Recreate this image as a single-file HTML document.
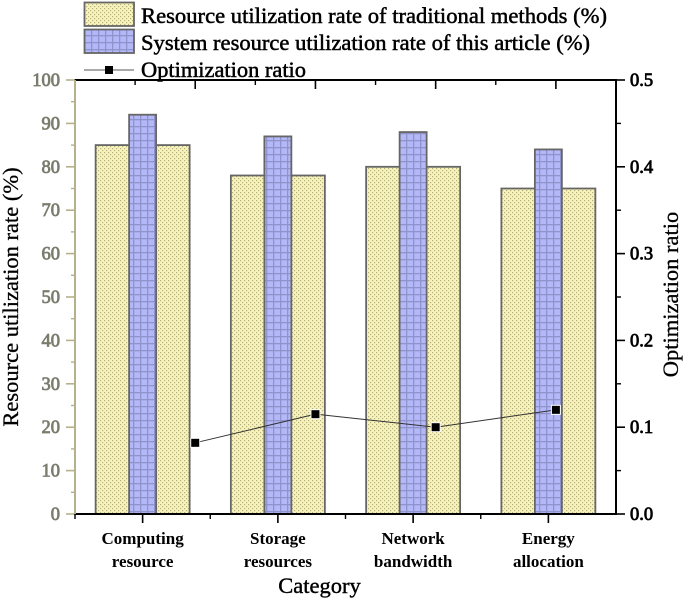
<!DOCTYPE html>
<html>
<head>
<meta charset="utf-8">
<style>
html,body{margin:0;padding:0;background:#fff;}
svg{display:block;font-family:"Liberation Serif",serif;}
</style>
</head>
<body>
<svg id="chart" width="685" height="600" viewBox="0 0 685 600" xmlns="http://www.w3.org/2000/svg">
<defs>
<pattern id="dots" width="4" height="4" patternUnits="userSpaceOnUse">
<rect width="4" height="4" fill="#f8f3ba"/>
<rect x="0" y="0" width="1.2" height="1.2" fill="#b4b080"/>
<rect x="2" y="2" width="1.2" height="1.2" fill="#b4b080"/>
</pattern>
<pattern id="grid" width="7" height="7" patternUnits="userSpaceOnUse">
<rect width="7" height="7" fill="#b4b8f8"/>
<rect x="0" y="0" width="7" height="1.3" fill="#8f93cc"/>
<rect x="0" y="0" width="1.3" height="7" fill="#8f93cc"/>
</pattern>
<filter id="soft" x="0" y="0" width="100%" height="100%" filterUnits="userSpaceOnUse" primitiveUnits="userSpaceOnUse">
<feGaussianBlur stdDeviation="0.28"/>
</filter>
</defs>
<g filter="url(#soft)">
<g id="bars"></g>
<g id="line"></g>
<g id="axes"></g>
<g>
<rect x="84.5" y="2.5" width="49.5" height="23.5" fill="url(#dots)" stroke="#666" stroke-width="1.8"/>
<text x="141" y="23" font-size="22" textLength="466" lengthAdjust="spacingAndGlyphs" fill="#000" stroke="#000" stroke-width="0.5">Resource utilization rate of traditional methods (%)</text>
<rect x="84.5" y="29.5" width="49.5" height="23.5" fill="url(#grid)" stroke="#666" stroke-width="1.8"/>
<text x="141" y="50" font-size="22" textLength="449" lengthAdjust="spacingAndGlyphs" fill="#000" stroke="#000" stroke-width="0.5">System resource utilization rate of this article (%)</text>
<line x1="84" y1="70" x2="134" y2="70" stroke="#555" stroke-width="1"/>
<rect x="105" y="66" width="8" height="8" fill="#000"/>
<text x="141" y="77" font-size="22" textLength="165" lengthAdjust="spacingAndGlyphs" fill="#000" stroke="#000" stroke-width="0.5">Optimization ratio</text>
</g>
<text transform="translate(18,297) rotate(-90)" text-anchor="middle" font-size="22.5" fill="#000" stroke="#000" stroke-width="0.3">Resource utilization rate (%)</text>
<text transform="translate(678,294.5) rotate(-90)" text-anchor="middle" font-size="22.5" fill="#000" stroke="#000" stroke-width="0.3">Optimization ratio</text>
<text x="319.5" y="593" text-anchor="middle" font-size="22.5" fill="#000" stroke="#000" stroke-width="0.4">Category</text>
</g>
<script>
var categories = [["Computing","resource"],["Storage","resources"],["Network","bandwidth"],["Energy","allocation"]];
var traditionalValues = [85,78,80,75];
var proposedValues = [92,87,88,84];
var ratioValues = [0.082,0.115,0.1,0.12];
var leftTicks = [0,10,20,30,40,50,60,70,80,90,100];
var rightTicks = [0,0.1,0.2,0.3,0.4,0.5];

var NS = 'http://www.w3.org/2000/svg';
var L = 75, R = 616, T = 80, B = 514;
function yLeft(v){ return B - (B - T) * v / 100; }
function yRight(v){ return B - (B - T) * v / 0.5; }
function xCat(i){ return L + (R - L) * (i + 0.5) / categories.length; }
function xLine(i){ return L + (R - L) * (i + 1) / (categories.length + 0.5); }
function mk(parent, tag, attrs, txt){
  var el = document.createElementNS(NS, tag);
  for (var k in attrs) el.setAttribute(k, attrs[k]);
  if (txt !== undefined) el.textContent = txt;
  parent.appendChild(el);
  return el;
}
var barsG = document.getElementById('bars');
var lineG = document.getElementById('line');
var axesG = document.getElementById('axes');
var el;

categories.forEach(function(c, i){
  var cx = xCat(i);
  el = mk(barsG, 'rect', {x:cx-47, y:yLeft(traditionalValues[i]), width:94, height:B-yLeft(traditionalValues[i]), fill:'url(#dots)', stroke:'#666', 'stroke-width':1.8});
  
  
  el = mk(barsG, 'rect', {x:cx-13.5, y:yLeft(proposedValues[i]), width:27, height:B-yLeft(proposedValues[i]), fill:'url(#grid)', stroke:'#666', 'stroke-width':1.8});
  
  
});

var linePts = ratioValues.map(function(v, i){ return xLine(i) + ',' + yRight(v); }).join(' ');
el = mk(lineG, 'polyline', {points:linePts, fill:'none', stroke:'#333', 'stroke-width':1});


ratioValues.forEach(function(v, i){
  el = mk(lineG, 'rect', {x:xLine(i)-4, y:yRight(v)-4, width:8, height:8, fill:'#000', stroke:'#fff', 'stroke-width':2, 'paint-order':'stroke'});
  
  
});

// frame
el = mk(axesG, 'line', {x1:L-1, y1:T, x2:R+1, y2:T, stroke:'#000', 'stroke-width':2});


el = mk(axesG, 'line', {x1:L-1, y1:B, x2:R+1, y2:B, stroke:'#000', 'stroke-width':2});


el = mk(axesG, 'line', {x1:L, y1:T, x2:L, y2:B, stroke:'#b5b18c', 'stroke-width':2});


el = mk(axesG, 'line', {x1:R, y1:T, x2:R, y2:B, stroke:'#000', 'stroke-width':2});



// left ticks and labels
leftTicks.forEach(function(v, i){
  el = mk(axesG, 'line', {x1:66, y1:yLeft(v), x2:L, y2:yLeft(v), stroke:'#b5b18c', 'stroke-width':1.6});
  
  
  if (i < leftTicks.length - 1) {
    var m = (v + leftTicks[i+1]) / 2;
    el = mk(axesG, 'line', {x1:71, y1:yLeft(m), x2:L, y2:yLeft(m), stroke:'#b5b18c', 'stroke-width':1.4});
    
    
  }
  el = mk(axesG, 'text', {x:60, y:yLeft(v)+6, 'text-anchor':'end', 'font-size':18.5, fill:'#7a7d6e', stroke:'#7a7d6e', 'stroke-width':0.8}, String(v));
  
  
});

// right ticks and labels
rightTicks.forEach(function(v, i){
  el = mk(axesG, 'line', {x1:R, y1:yRight(v), x2:R+9, y2:yRight(v), stroke:'#000', 'stroke-width':1.6});
  
  
  if (i < rightTicks.length - 1) {
    var m = (v + rightTicks[i+1]) / 2;
    el = mk(axesG, 'line', {x1:R, y1:yRight(m), x2:R+5, y2:yRight(m), stroke:'#000', 'stroke-width':1.4});
    
    
  }
  el = mk(axesG, 'text', {x:630, y:yRight(v)+6, 'font-size':18.5, fill:'#000', stroke:'#000', 'stroke-width':0.8}, v.toFixed(1));
  
  
});

// bottom ticks and category labels
categories.forEach(function(c, i){
  var cx = xCat(i);
  el = mk(axesG, 'line', {x1:cx, y1:B, x2:cx, y2:B+9, stroke:'#000', 'stroke-width':1.6});
  
  
  var mx = L + (R - L) * i / categories.length;
  el = mk(axesG, 'line', {x1:mx, y1:B, x2:mx, y2:B+5, stroke:'#000', 'stroke-width':1.4});
  
  
  el = mk(axesG, 'text', {x:cx, y:544, 'text-anchor':'middle', 'font-size':17, 'font-weight':'bold', fill:'#000'}, c[0]);
  
  
  el = mk(axesG, 'text', {x:cx, y:567, 'text-anchor':'middle', 'font-size':17, 'font-weight':'bold', fill:'#000'}, c[1]);
  
  
});

// top ticks aligned with the line series positions
categories.forEach(function(c, i){
  var x = xLine(i);
  el = mk(axesG, 'line', {x1:x, y1:T, x2:x, y2:T+9, stroke:'#000', 'stroke-width':1.6});
  
  
  var mx = L + (R - L) * (i + 0.5) / (categories.length + 0.5);
  el = mk(axesG, 'line', {x1:mx, y1:T, x2:mx, y2:T+5, stroke:'#000', 'stroke-width':1.4});
  
  
});
</script>
</svg>
</body>
</html>
